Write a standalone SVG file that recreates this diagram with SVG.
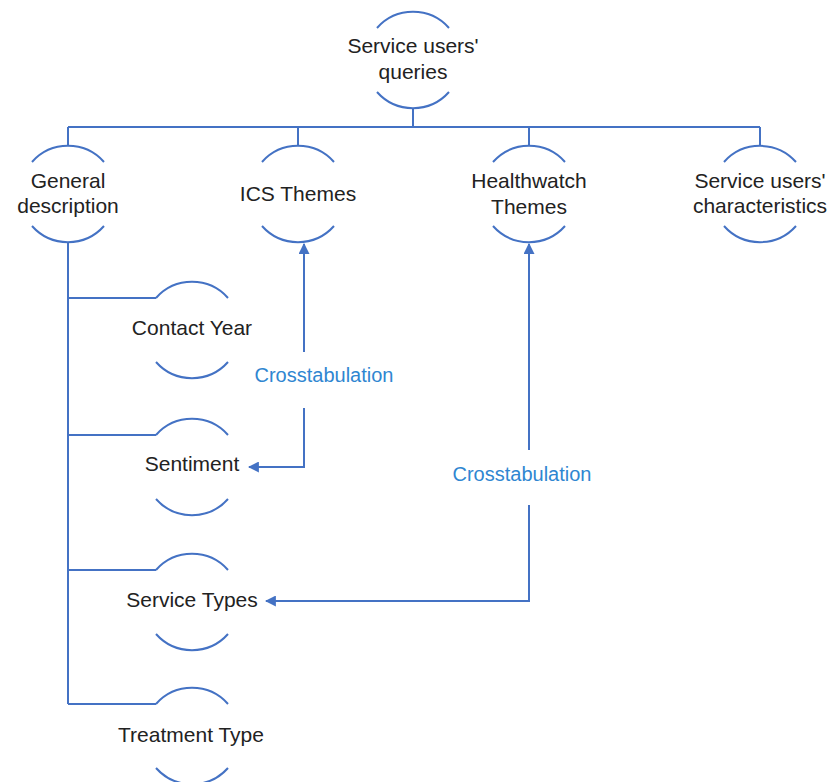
<svg xmlns="http://www.w3.org/2000/svg" width="832" height="782" viewBox="0 0 832 782">
<style>
.arc{fill:none;stroke:#4472C4;stroke-width:2}
.ln{fill:none;stroke:#4472C4;stroke-width:2}
.t{font-family:"Liberation Sans",Arial,sans-serif;font-size:21px;fill:#222;text-anchor:middle}
.lbl{font-family:"Liberation Sans",Arial,sans-serif;font-size:20px;fill:#2F86D1;text-anchor:middle}
</style>
<defs>
<g id="shape">
<path class="arc" d="M-36,-32 A48.2,48.2 0 0 1 36,-32"/>
<path class="arc" d="M-36,32 A48.2,48.2 0 0 0 36,32"/>
</g>
<marker id="ah" viewBox="0 0 10 10" refX="9" refY="5" markerWidth="11" markerHeight="11" markerUnits="userSpaceOnUse" orient="auto">
<path d="M0,0 L10,5 L0,10 z" fill="#4472C4"/>
</marker>
</defs>
<g id="connectors">
<path class="ln" d="M413,108 V127 M68,127 H760 M68,127 V146 M298,127 V146 M529,127 V146 M760,127 V146"/>
<path class="ln" d="M68,242 V704 M68,298 H156 M68,435 H156 M68,570 H156 M68,704 H156"/>
<path class="ln" d="M304,352 V244" marker-end="url(#ah)"/>
<path class="ln" d="M304,408 V467 H249" marker-end="url(#ah)"/>
<path class="ln" d="M529,450 V244" marker-end="url(#ah)"/>
<path class="ln" d="M529,505 V601 H266" marker-end="url(#ah)"/>
<text class="lbl" x="324" y="382">Crosstabulation</text>
<text class="lbl" x="522" y="481">Crosstabulation</text>
</g>
<g id="n-queries">
<use href="#shape" transform="translate(413,60)"/>
<text class="t" x="413" y="53">Service users'</text>
<text class="t" x="413" y="79">queries</text>
</g>
<g id="n-general">
<use href="#shape" transform="translate(68,194)"/>
<text class="t" x="68" y="188">General</text>
<text class="t" x="68" y="213">description</text>
</g>
<g id="n-ics">
<use href="#shape" transform="translate(298,194)"/>
<text class="t" x="298" y="201">ICS Themes</text>
</g>
<g id="n-healthwatch">
<use href="#shape" transform="translate(529,194)"/>
<text class="t" x="529" y="188">Healthwatch</text>
<text class="t" x="529" y="214">Themes</text>
</g>
<g id="n-characteristics">
<use href="#shape" transform="translate(760,194)"/>
<text class="t" x="760" y="188">Service users'</text>
<text class="t" x="760" y="213">characteristics</text>
</g>
<g id="n-contact-year">
<use href="#shape" transform="translate(192,330)"/>
<text class="t" x="192" y="335">Contact Year</text>
</g>
<g id="n-sentiment">
<use href="#shape" transform="translate(192,467)"/>
<text class="t" x="192" y="471">Sentiment</text>
</g>
<g id="n-service-types">
<use href="#shape" transform="translate(192,602)"/>
<text class="t" x="192" y="607">Service Types</text>
</g>
<g id="n-treatment-type">
<use href="#shape" transform="translate(192,736)"/>
<text class="t" x="191" y="742">Treatment Type</text>
</g>
</svg>
